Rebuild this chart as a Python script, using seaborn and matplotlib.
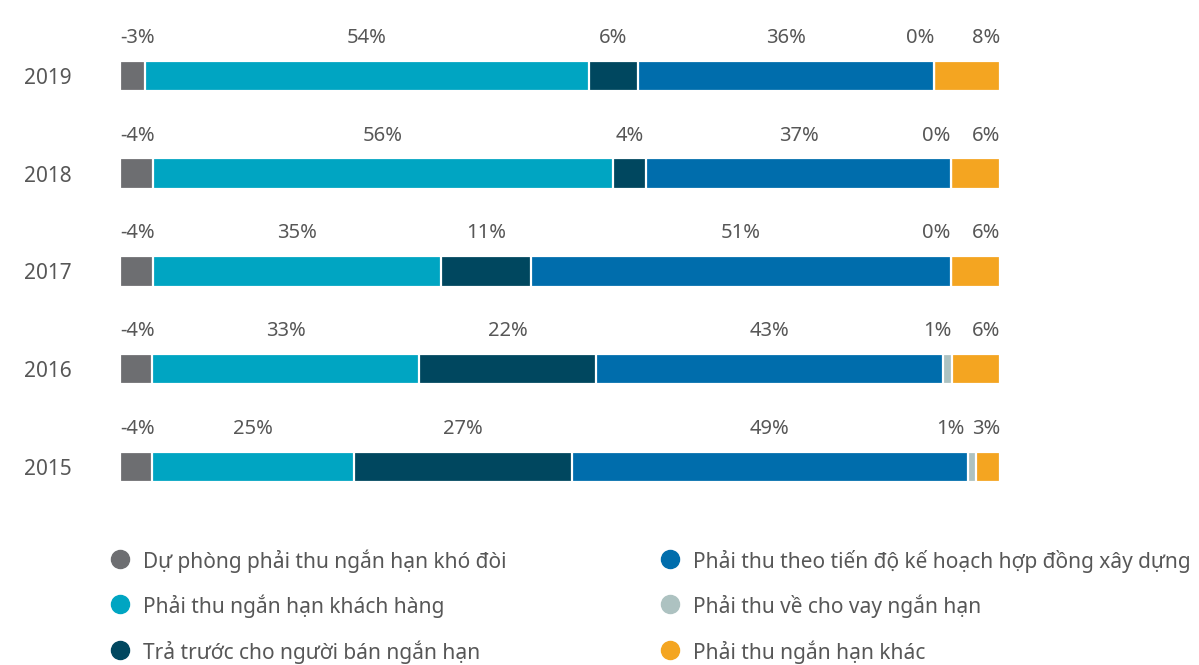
import matplotlib
matplotlib.use("Agg")
import matplotlib.pyplot as plt
from matplotlib.lines import Line2D
import numpy as np
import pandas as pd
import seaborn as sns

# Cơ cấu các khoản phải thu ngắn hạn (%)
years = ["2019", "2018", "2017", "2016", "2015"]
categories = [
    "Dự phòng phải thu ngắn hạn khó đòi",
    "Phải thu ngắn hạn khách hàng",
    "Trả trước cho người bán ngắn hạn",
    "Phải thu theo tiến độ kế hoạch hợp đồng xây dựng",
    "Phải thu về cho vay ngắn hạn",
    "Phải thu ngắn hạn khác",
]
du_phong = [-3, -4, -4, -4, -4]
khach_hang = [54, 56, 35, 33, 25]
tra_truoc = [6, 4, 11, 22, 27]
tien_do = [36, 37, 51, 43, 49]
cho_vay = [0, 0, 0, 1, 1]
khac = [8, 6, 6, 6, 3]

colors = ["#6d6e71", "#00a5c2", "#00475f", "#006dac", "#adc2c1", "#f4a521"]
text_color = "#575757"

sns.set_theme(style="white")
plt.rcParams["font.family"] = ["Noto Sans", "DejaVu Sans"]

series = [du_phong, khach_hang, tra_truoc, tien_do, cho_vay, khac]
values = np.array(series, dtype=float).T          # rows = years
shares = np.abs(values) / np.abs(values).sum(axis=1, keepdims=True) * 100
cum = np.cumsum(shares, axis=1)

df = pd.DataFrame(cum, columns=categories)
df["year"] = years

W, H = 1199, 665
fig = plt.figure(figsize=(W / 100, H / 100), dpi=100)
row_px = 97.75
ax = fig.add_axes([120 / W, 1 - (27 + 5 * row_px) / H, 880 / W, 5 * row_px / H])

# stacked bars: draw cumulative totals from the outermost segment inwards
for k in range(len(categories) - 1, -1, -1):
    sns.barplot(data=df, x=categories[k], y="year", order=years, orient="h",
                color=colors[k], width=0.31, edgecolor="white", linewidth=1.6,
                saturation=1, ax=ax)

ax.set_xlim(0, 100)
ax.set_ylim(4.5, -0.5)
ax.set_xlabel("")
ax.set_ylabel("")
ax.set_xticks([])
ax.tick_params(axis="y", length=0, pad=35, labelsize=15, labelcolor=text_color)
for s in ax.spines.values():
    s.set_visible(False)

# value labels above each segment
renderer = fig.canvas.get_renderer()
px_per_unit = 880 / 100
n = len(categories)
label_kw = dict(va="center", fontsize=14.5, color=text_color)
for i in range(len(years)):
    y = i - 0.39
    # last segment: label flush with the bar end
    last = ax.text(100, y, f"{int(values[i, n - 1])}%", ha="right", **label_kw)
    last_w = last.get_window_extent(renderer).width / px_per_unit
    for k in range(n - 1):
        start = cum[i, k] - shares[i, k]
        end = cum[i, k]
        label = f"{int(values[i, k])}%"
        if k == 0:
            x, ha = 0, "left"
        elif k == n - 2:
            x, ha = min(end, 100 - last_w - 0.8), "right"
        else:
            x, ha = (start + end) / 2, "center"
        ax.text(x, y, label, ha=ha, **label_kw)

# legend in two columns
leg_rows = [559, 604, 650]
leg_cols = [120, 670]
for k, name in enumerate(categories):
    cx = leg_cols[k // 3]
    cy = 1 - leg_rows[k % 3] / H
    fig.add_artist(Line2D([cx / W], [cy], marker="o", markersize=13,
                          color=colors[k], linestyle="none",
                          transform=fig.transFigure))
    fig.text((cx + 23) / W, cy, name, ha="left", va="center_baseline",
             fontsize=15, color=text_color)

fig.savefig("out.png", dpi=100)
